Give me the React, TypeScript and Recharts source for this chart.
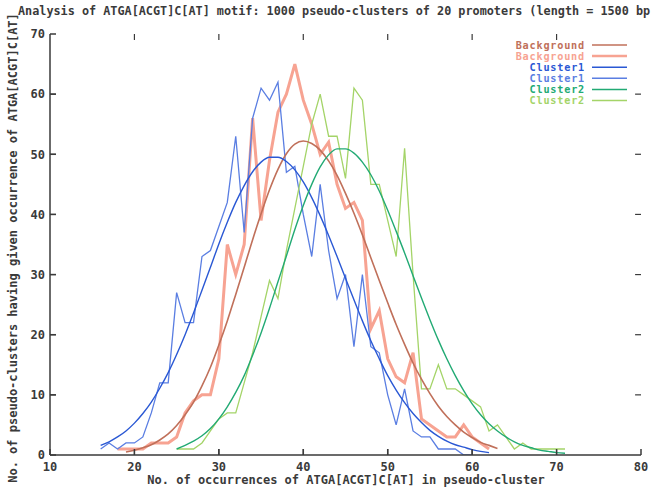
import React from 'react';
import { LineChart, Line, XAxis, YAxis, ReferenceLine } from 'recharts';

// ---- axis ticks ----
const xTicks = [10, 20, 30, 40, 50, 60, 70, 80];
const yTicks = [0, 10, 20, 30, 40, 50, 60, 70];

// ---- Background (observed counts), starting at x = 18 ----
const bgDataStart = 18;
const bgData = [1, 1, 1, 1, 2, 2, 2, 3, 7, 9, 10, 10, 16, 35, 30, 35, 56, 39, 49, 57, 60, 65, 59, 55, 50, 52, 45, 41, 42, 39, 21, 24, 16, 13, 12, 17, 6, 5, 4, 3, 3, 5, 3, 2, 1];

// ---- Background (fitted curve), starting at x = 19 ----
const bgFitStart = 19;
const bgFit = [0.5, 0.8, 1.2, 1.7, 2.5, 3.5, 4.9, 6.7, 8.8, 11.5, 14.6, 18.3, 22.3, 26.7, 31.2, 35.8, 40.1, 44.1, 47.5, 50.1, 51.7, 52.2, 51.8, 50.7, 48.9, 46.5, 43.5, 40.2, 36.6, 32.8, 29.0, 25.3, 21.7, 18.4, 15.3, 12.6, 10.2, 8.1, 6.4, 5.0, 3.8, 2.9, 2.1, 1.6, 1.1];

// ---- Cluster1 (observed counts), starting at x = 16 ----
const c1DataStart = 16;
const c1Data = [1, 2, 1, 2, 2, 3, 7, 12, 12, 27, 22, 22, 33, 34, 38, 42, 53, 37, 56, 61, 59, 62, 47, 48, 40, 33, 45, 34, 26, 30, 18, 30, 18, 17, 10, 5, 11, 4, 3, 3, 1, 1, 1, 0, 0];

// ---- Cluster1 (fitted curve), starting at x = 16 ----
const c1FitStart = 16;
const c1Fit = [1.6, 2.2, 3.0, 4.0, 5.3, 6.9, 8.8, 11.1, 13.7, 16.7, 20.0, 23.6, 27.4, 31.2, 35.1, 38.7, 42.0, 44.8, 47.1, 48.7, 49.5, 49.5, 48.8, 47.4, 45.4, 42.8, 39.8, 36.5, 33.0, 29.4, 25.8, 22.3, 19.0, 16.0, 13.2, 10.8, 8.7, 6.9, 5.4, 4.1, 3.1, 2.3, 1.7, 1.3, 0.9, 0.6, 0.4];

// ---- Cluster2 (observed counts), starting at x = 25 ----
const c2DataStart = 25;
const c2Data = [1, 1, 1, 2, 4, 6, 7, 7, 12, 17, 23, 29, 26, 34, 41, 48, 55, 60, 53, 53, 46, 61, 59, 45, 45, 39, 33, 51, 30, 11, 11, 15, 11, 11, 10, 9, 8, 4, 5, 3, 1, 2, 1, 1, 1, 1, 1];

// ---- Cluster2 (fitted curve), starting at x = 25 ----
const c2FitStart = 25;
const c2Fit = [1.0, 1.6, 2.3, 3.2, 4.4, 6.0, 8.0, 10.4, 13.2, 16.6, 20.3, 24.4, 28.8, 33.1, 37.5, 41.5, 45.0, 47.9, 49.9, 50.9, 50.9, 50.2, 48.7, 46.6, 43.9, 40.7, 37.2, 33.6, 29.8, 26.1, 22.5, 19.1, 16.0, 13.2, 10.7, 8.5, 6.7, 5.2, 4.0, 3.0, 2.2, 1.6, 1.2, 0.8, 0.6, 0.4, 0.3];

const COLORS = {
  bgFit: '#c0705a',
  bgData: '#f7a392',
  c1Fit: '#2a58d4',
  c1Data: '#5a7ee2',
  c2Fit: '#22aa74',
  c2Data: '#a4d468',
};

const legendItems = [
  { label: 'Background', color: COLORS.bgFit },
  { label: 'Background', color: COLORS.bgData },
  { label: 'Cluster1', color: COLORS.c1Fit },
  { label: 'Cluster1', color: COLORS.c1Data },
  { label: 'Cluster2', color: COLORS.c2Fit },
  { label: 'Cluster2', color: COLORS.c2Data },
];

function buildRows() {
  const rows: any[] = [];
  for (let x = 16; x <= 71; x++) {
    const row: any = { x };
    const put = (key: string, start: number, arr: number[]) => {
      const i = x - start;
      if (i >= 0 && i < arr.length) row[key] = arr[i];
    };
    put('bgData', bgDataStart, bgData);
    put('bgFit', bgFitStart, bgFit);
    put('c1Data', c1DataStart, c1Data);
    put('c1Fit', c1FitStart, c1Fit);
    put('c2Data', c2DataStart, c2Data);
    put('c2Fit', c2FitStart, c2Fit);
    rows.push(row);
  }
  return rows;
}

const rows = buildRows();

const FONT = '"DejaVu Sans Mono", "Liberation Mono", monospace';
const TEXT_FILL = '#3a3a3a';
const AXIS = '#3a3a3a';

const tickStyle = { fontFamily: FONT, fontSize: 12, fontWeight: 700, fill: TEXT_FILL };
const noLabel = () => <g />;

// inner tick marks (gnuplot style, on all four borders)
const innerXTicks = xTicks.slice(1, -1);
const innerYTicks = yTicks.slice(1, -1);

export default function App() {
  return (
    <div style={{ position: 'absolute', left: 0, top: 0, width: 660, height: 488, background: '#fff', overflow: 'hidden' }}>
      <LineChart
        width={660}
        height={488}
        data={rows}
        margin={{ top: 34, right: 19, bottom: 0, left: 0 }}
      >
        <XAxis
          dataKey="x"
          type="number"
          domain={[10, 80]}
          ticks={xTicks}
          allowDataOverflow
          height={33}
          tickSize={-6}
          tickMargin={13}
          stroke={AXIS}
          strokeWidth={1.5}
          tick={tickStyle}
        />
        <XAxis
          xAxisId="top"
          orientation="top"
          type="number"
          domain={[10, 80]}
          ticks={xTicks}
          height={0}
          tickSize={-6}
          tick={noLabel}
          stroke={AXIS}
          strokeWidth={1.5}
        />
        <YAxis
          type="number"
          domain={[0, 70]}
          ticks={yTicks}
          allowDataOverflow
          width={50}
          tickSize={-6}
          tickMargin={11}
          stroke={AXIS}
          strokeWidth={1.5}
          tick={tickStyle}
        />
        <YAxis
          yAxisId="right"
          orientation="right"
          type="number"
          domain={[0, 70]}
          ticks={yTicks}
          width={0}
          tickSize={-6}
          tick={noLabel}
          stroke={AXIS}
          strokeWidth={1.5}
        />
        {innerXTicks.map((t) => (
          <ReferenceLine key={'xb' + t} segment={[{ x: t, y: 0 }, { x: t, y: 1 }]} stroke={AXIS} strokeWidth={1.2} />
        ))}
        {innerXTicks.map((t) => (
          <ReferenceLine key={'xt' + t} segment={[{ x: t, y: 69 }, { x: t, y: 70 }]} stroke={AXIS} strokeWidth={1.2} />
        ))}
        {innerYTicks.map((t) => (
          <ReferenceLine key={'yl' + t} segment={[{ x: 10, y: t }, { x: 10.7, y: t }]} stroke={AXIS} strokeWidth={1.2} />
        ))}
        {innerYTicks.map((t) => (
          <ReferenceLine key={'yr' + t} segment={[{ x: 79.3, y: t }, { x: 80, y: t }]} stroke={AXIS} strokeWidth={1.2} />
        ))}
        <Line dataKey="bgData" type="linear" stroke={COLORS.bgData} strokeWidth={3} dot={false} isAnimationActive={false} />
        <Line dataKey="c1Data" type="linear" stroke={COLORS.c1Data} strokeWidth={1.3} dot={false} isAnimationActive={false} />
        <Line dataKey="c2Data" type="linear" stroke={COLORS.c2Data} strokeWidth={1.3} dot={false} isAnimationActive={false} />
        <Line dataKey="bgFit" type="monotone" stroke={COLORS.bgFit} strokeWidth={1.6} dot={false} isAnimationActive={false} />
        <Line dataKey="c1Fit" type="monotone" stroke={COLORS.c1Fit} strokeWidth={1.4} dot={false} isAnimationActive={false} />
        <Line dataKey="c2Fit" type="monotone" stroke={COLORS.c2Fit} strokeWidth={1.4} dot={false} isAnimationActive={false} />
      </LineChart>
      <svg
        width={660}
        height={488}
        style={{ position: 'absolute', left: 0, top: 0, pointerEvents: 'none' }}
      >
        <text x={18} y={15} fontFamily={FONT} fontSize={11.8} fontWeight={700} fill={TEXT_FILL}>
          Analysis of ATGA[ACGT]C[AT] motif: 1000 pseudo-clusters of 20 promoters (length = 1500 bp
        </text>
        <text x={346} y={484} textAnchor="middle" fontFamily={FONT} fontSize={12} fontWeight={700} fill={TEXT_FILL}>
          No. of occurrences of ATGA[ACGT]C[AT] in pseudo-cluster
        </text>
        <text
          transform="translate(17,248) rotate(-90)"
          textAnchor="middle"
          fontFamily={FONT}
          fontSize={12}
          fontWeight={700}
          fill={TEXT_FILL}
        >
          No. of pseudo-clusters having given occurrence of ATGA[ACGT]C[AT]
        </text>
        {legendItems.map((item, i) => {
          const y = 45 + i * 11.1;
          return (
            <g key={i}>
              <text
                x={585}
                y={y + 3.5}
                textAnchor="end"
                fontFamily={FONT}
                fontSize={10.2}
                letterSpacing={0.8}
                fontWeight={700}
                fill={item.color}
              >
                {item.label}
              </text>
              <line x1={592} x2={627} y1={y} y2={y} stroke={item.color} strokeWidth={item.color === COLORS.bgData ? 2.5 : 1.5} />
            </g>
          );
        })}
      </svg>
    </div>
  );
}
